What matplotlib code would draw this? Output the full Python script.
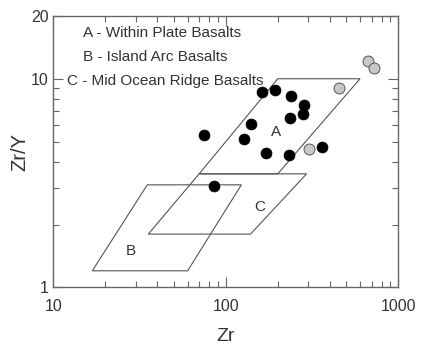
import numpy as np
import matplotlib
matplotlib.use("Agg")
import matplotlib.pyplot as plt
from matplotlib.ticker import FixedLocator, NullFormatter

plt.rcParams['font.family'] = ['Liberation Sans', 'DejaVu Sans']

## samples (Zr ppm, Zr/Y)
zr_black = [74.7, 162, 192, 238, 284, 281, 236, 139, 127, 171, 232, 361, 85]
zry_black = [5.40, 8.65, 8.81, 8.27, 7.46, 6.75, 6.45, 6.10, 5.14, 4.42, 4.29, 4.72, 3.05]
zr_grey = [451, 302, 667, 719]
zry_grey = [8.98, 4.58, 12.1, 11.2]

## discrimination fields (Pearce & Norry 1979), corners as (Zr, Zr/Y)
field_a_zr = [70, 200, 600, 200]
field_a_zry = [3.5, 10, 10, 3.5]
field_b_zr = [35, 123, 60, 16.8]
field_b_zry = [3.1, 3.1, 1.2, 1.2]
field_c_zr = [35.5, 70, 294, 139]
field_c_zry = [1.8, 3.5, 3.5, 1.8]

field_names = ["A", "B", "C"]
field_label_zr = [195, 28.2, 158]
field_label_zry = [5.56, 1.49, 2.44]
legend_lines = ["A - Within Plate Basalts", "B - Island Arc Basalts",
                "C - Mid Ocean Ridge Basalts"]

linecol = "#555555"
textcol = "#333333"

fig = plt.figure(figsize=(4.21, 3.47), dpi=100)
ax = fig.add_axes([0.127, 0.172, 0.819, 0.782])
ax.set_xscale("log")
ax.set_yscale("log")

for fx, fy in [(field_a_zr, field_a_zry), (field_b_zr, field_b_zry), (field_c_zr, field_c_zry)]:
    ax.fill(fx, fy, facecolor="none", edgecolor=linecol, lw=0.8, zorder=1)

for name, x, y in zip(field_names, field_label_zr, field_label_zry):
    ax.text(x, y, name, ha="center", va="center", fontsize=11, color=textcol)

ax.scatter(zr_black, zry_black, s=62, c="black", edgecolors="black", lw=0.5, zorder=3)
ax.scatter(zr_grey, zry_grey, s=62, c="#c8c8c8", edgecolors="#555555", lw=0.7, zorder=3)

## legend text block in the upper left corner
ax.text(0.085, 0.937, legend_lines[0], transform=ax.transAxes, va="center", fontsize=11, color=textcol)
ax.text(0.086, 0.849, legend_lines[1], transform=ax.transAxes, va="center", fontsize=11, color=textcol)
ax.text(0.039, 0.761, legend_lines[2], transform=ax.transAxes, va="center", fontsize=11, color=textcol)

ax.set_xlim(10, 1000)
ax.set_ylim(1, 20)
ax.xaxis.set_major_locator(FixedLocator([10, 100, 1000]))
ax.xaxis.set_minor_locator(FixedLocator([m * d for d in [10, 100] for m in range(2, 10)]))
ax.yaxis.set_major_locator(FixedLocator([1, 10, 20]))
ax.yaxis.set_minor_locator(FixedLocator([2, 3, 4, 5, 6, 7, 8, 9]))
ax.set_xticklabels(["10", "100", "1000"])
ax.set_yticklabels(["1", "10", "20"])
ax.xaxis.set_minor_formatter(NullFormatter())
ax.yaxis.set_minor_formatter(NullFormatter())
ax.tick_params(which="both", direction="in", top=True, right=True, colors="#666666",
               labelcolor=textcol, labelsize=11.5)
ax.tick_params(which="major", length=7, width=0.8)
ax.tick_params(which="minor", length=4, width=0.8)
ax.tick_params(axis="x", which="major", pad=8.5)
for sp in ax.spines.values():
    sp.set_color("#666666")
    sp.set_linewidth(1.0)

ax.set_xlabel("Zr", fontsize=14, color=textcol, labelpad=10)
ax.set_ylabel("Zr/Y", fontsize=14.5, color=textcol, labelpad=1)

plt.savefig("out.png", dpi=100)
